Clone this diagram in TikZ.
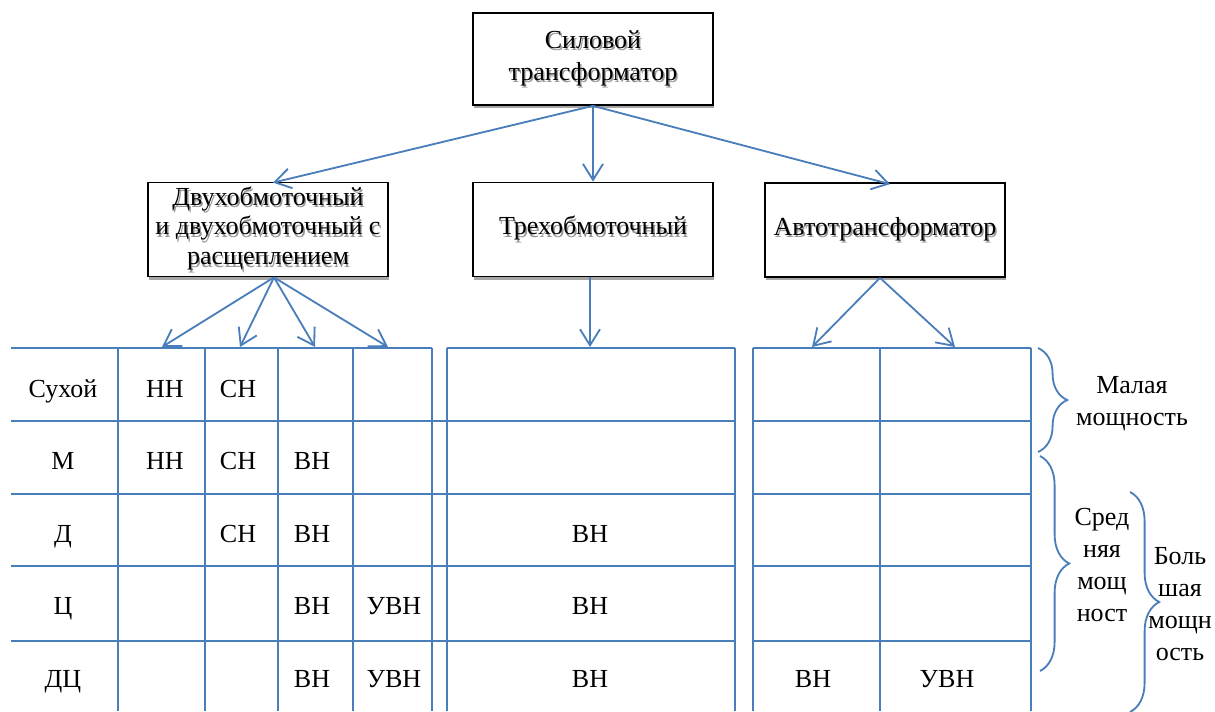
\documentclass[tikz,border=0pt]{standalone}
\usepackage{fontspec}
\setmainfont{Liberation Serif}
\usetikzlibrary{arrows.meta, positioning, calc, shadows, decorations.pathreplacing}
\definecolor{sinij}{RGB}{74,126,187}
\newcommand{\stekst}[1]{\leavevmode\rlap{\kern1pt\raisebox{-1.5pt}{\color{black!40}#1}}#1}
\tikzset{
  blok/.style={draw=black, line width=1.2pt, fill=white, minimum width=6cm, minimum height=2.35cm,
    align=center, inner sep=1pt,
    drop shadow={shadow xshift=0.6pt, shadow yshift=-2.2pt, fill=black!35, opacity=1}},
  strelka/.style={->, draw=sinij, line width=1.3pt},
  setka/.style={draw=sinij, line width=2pt},
  skobka/.style={draw=sinij, line width=1.3pt, decorate, decoration={brace, amplitude=0.73cm}},
  yach/.style={anchor=base, inner sep=0pt},
  podpis/.style={align=center, inner sep=0pt}
}
\begin{document}
\begin{tikzpicture}[x=0.025cm, y=-0.025cm, font=\fontsize{18.5}{22.8}\selectfont,
  >={Straight Barb[length=4mm,width=5mm]}]
\useasboundingbox (0,0) rectangle (1215,711);
% boxes
\node[blok, minimum height=2.3cm] (sila) at (593,59) {\stekst{Силовой}\\\stekst{трансформатор}};
\node[blok, font=\fontsize{18.5}{21.3}\selectfont] (dvuh) at (268,229.5)
  {\stekst{Двухобмоточный}\\\stekst{и двухобмоточный с}\\\stekst{расщеплением}};
\node[blok] (treh) at (593,229.5) {\stekst{Трехобмоточный}};
\node[blok] (avto) at (885,230) {\stekst{Автотрансформатор}};
\draw[strelka] (sila.south) -- ($(dvuh.north)+(5,1)$);
\draw[strelka] (sila.south) -- (treh.north);
\draw[strelka] (sila.south) -- ($(avto.north)+(5,2)$);
% arrows down to the table
\foreach \x [count=\i] in {162,240,315,388} {
    \coordinate (dv\i) at (\x,347);
    \draw[strelka] ($(dvuh.south)+(6,0)$) -- (dv\i);
}
\coordinate (tr1) at (590,347);
\draw[strelka] ($(treh.south)+(-3,0)$) -- (tr1);
\foreach \x [count=\i] in {812,955} {
    \coordinate (av\i) at (\x,347);
    \draw[strelka] ($(avto.south)+(-5,0)$) -- (av\i);
}
% table
\foreach \x in {118,205,278,353,432,447,735,753,880,1031}
    \draw[setka] (\x,348) -- (\x,711);
\draw[setka] (11,348) -- (432,348);
\draw[setka] (447,348) -- (735,348);
\draw[setka] (753,348) -- (1031,348);
\foreach \y in {421,494,566,641} {
    \draw[setka] (11,\y) -- (735,\y);
    \draw[setka] (753,\y) -- (1031,\y);
}
\foreach \t [count=\i] in {Сухой,М,Д,Ц,ДЦ}
    \node[yach] (ryad\i) at (63,{324.5+72.5*\i}) {\t};
\foreach \x/\i/\t [count=\k] in {165/1/НН, 238/1/СН, 165/2/НН, 238/2/СН, 312/2/ВН,
    238/3/СН, 312/3/ВН, 312/4/ВН, 394/4/УВН, 312/5/ВН, 394/5/УВН,
    590/3/ВН, 590/4/ВН, 590/5/ВН, 813/5/ВН, 947/5/УВН}
    \node[yach] (kl\k) at (\x,{324.5+72.5*\i}) {\t};
% braces
\draw[skobka] (1038,348) -- (1038,452);
\draw[skobka] (1040,456) -- (1040,671);
\draw[skobka] (1130,492) -- (1130,712);
\node[podpis] (malaya) at (1132,404) {Малая\\мощность};
\node[podpis] (srednyaya) at (1102,565) {Сред\\няя\\мощ\\ност};
\node[podpis] (bolshaya) at (1180,604) {Боль\\шая\\мощн\\ость};
\end{tikzpicture}
\end{document}
